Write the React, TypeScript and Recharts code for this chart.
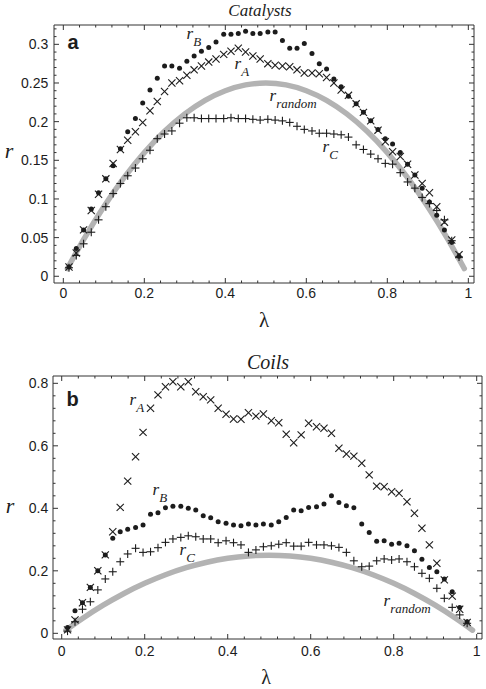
import { ScatterChart, Scatter, XAxis, YAxis, ReferenceLine, Customized } from 'recharts'

// lambda positions shared by both panels
const LAMBDA = [
  0.014, 0.032, 0.05, 0.069, 0.087, 0.105, 0.123, 0.141, 0.159, 0.178,
  0.196, 0.214, 0.232, 0.25, 0.268, 0.287, 0.305, 0.323, 0.341, 0.359,
  0.377, 0.396, 0.414, 0.432, 0.45, 0.468, 0.486, 0.505, 0.523, 0.541,
  0.559, 0.577, 0.595, 0.614, 0.632, 0.65, 0.668, 0.686, 0.704, 0.723,
  0.741, 0.759, 0.777, 0.795, 0.813, 0.832, 0.85, 0.868, 0.886, 0.904,
  0.922, 0.941, 0.959, 0.977,
]

// panel a: Catalysts
const CAT_A = [
  0.012, 0.03, 0.06, 0.085, 0.106, 0.126, 0.146, 0.164, 0.176, 0.187,
  0.199, 0.214, 0.226, 0.239, 0.25, 0.253, 0.26, 0.267, 0.272, 0.277,
  0.281, 0.287, 0.291, 0.295, 0.29, 0.285, 0.281, 0.275, 0.273, 0.272,
  0.271, 0.267, 0.263, 0.263, 0.262, 0.257, 0.25, 0.241, 0.234, 0.223,
  0.212, 0.201, 0.189, 0.174, 0.161, 0.155, 0.145, 0.131, 0.12, 0.108,
  0.09, 0.07, 0.047, 0.028,
]
const CAT_B = [
  0.012, 0.036, 0.06, 0.087, 0.108, 0.126, 0.143, 0.165, 0.187, 0.204,
  0.224, 0.241, 0.256, 0.272, 0.272, 0.269, 0.278, 0.285, 0.291, 0.296,
  0.303, 0.313, 0.313, 0.314, 0.317, 0.314, 0.314, 0.316, 0.316, 0.305,
  0.295, 0.295, 0.301, 0.288, 0.275, 0.268, 0.255, 0.245, 0.233, 0.223,
  0.212, 0.201, 0.19, 0.178, 0.171, 0.16, 0.145, 0.131, 0.114, 0.096,
  0.079, 0.06, 0.044, 0.026,
]
const CAT_C = [
  0.011, 0.027, 0.042, 0.057, 0.073, 0.09, 0.107, 0.12, 0.13, 0.14,
  0.152, 0.163, 0.178, 0.184, 0.188, 0.198, 0.205, 0.205, 0.204, 0.204,
  0.204, 0.204, 0.205, 0.204, 0.204, 0.203, 0.202, 0.203, 0.202, 0.201,
  0.199, 0.194, 0.19, 0.188, 0.185, 0.185, 0.184, 0.183, 0.18, 0.17,
  0.164, 0.158, 0.152, 0.146, 0.145, 0.134, 0.122, 0.114, 0.102, 0.094,
  0.085, 0.073, 0.046, 0.025,
]

// panel b: Coils
const COIL_A = [
  0.011, 0.043, 0.098, 0.147, 0.2, 0.251, 0.325, 0.403, 0.487, 0.565,
  0.643, 0.72, 0.763, 0.789, 0.805, 0.789, 0.805, 0.773, 0.757, 0.747,
  0.72, 0.701, 0.686, 0.685, 0.706, 0.695, 0.702, 0.68, 0.674, 0.637,
  0.61, 0.635, 0.672, 0.661, 0.656, 0.64, 0.592, 0.574, 0.567, 0.544,
  0.507, 0.471, 0.469, 0.453, 0.448, 0.421, 0.384, 0.336, 0.283, 0.224,
  0.171, 0.119, 0.077, 0.035,
]
const COIL_B = [
  0.019, 0.072, 0.098, 0.147, 0.2, 0.251, 0.304, 0.325, 0.333, 0.339,
  0.347, 0.381, 0.386, 0.402, 0.407, 0.407, 0.4, 0.395, 0.376, 0.37,
  0.357, 0.352, 0.347, 0.344, 0.35, 0.347, 0.35, 0.347, 0.357, 0.371,
  0.395, 0.392, 0.403, 0.405, 0.414, 0.44, 0.419, 0.408, 0.402, 0.35,
  0.323, 0.295, 0.296, 0.285, 0.288, 0.28, 0.264, 0.237, 0.211, 0.197,
  0.174, 0.133, 0.083, 0.037,
]
const COIL_C = [
  0.007, 0.037, 0.077, 0.101, 0.139, 0.174, 0.197, 0.229, 0.254, 0.272,
  0.259, 0.261, 0.274, 0.291, 0.302, 0.307, 0.312, 0.309, 0.302, 0.302,
  0.29, 0.296, 0.29, 0.283, 0.259, 0.267, 0.277, 0.28, 0.285, 0.29,
  0.279, 0.279, 0.291, 0.283, 0.283, 0.28, 0.275, 0.259, 0.232, 0.213,
  0.215, 0.232, 0.238, 0.235, 0.238, 0.229, 0.213, 0.192, 0.176, 0.144,
  0.112, 0.083, 0.059, 0.032,
]

// grey r_random curve
const RAND_X = [0.01, 0.05, 0.1, 0.15, 0.2, 0.25, 0.3, 0.35, 0.4, 0.45, 0.5, 0.55, 0.6, 0.65, 0.7, 0.75, 0.8, 0.85, 0.9, 0.95, 0.99]
const RAND_Y = [0.0099, 0.0475, 0.09, 0.1275, 0.16, 0.1875, 0.21, 0.2275, 0.24, 0.2475, 0.25, 0.2475, 0.24, 0.2275, 0.21, 0.1875, 0.16, 0.1275, 0.09, 0.0475, 0.0099]

// ticks
const X_TICKS = Array.from({ length: 26 }, (_, i) => i * 0.04)
const X_LABELS = [0, 0.2, 0.4, 0.6, 0.8, 1]
const CAT_Y_TICKS = Array.from({ length: 33 }, (_, i) => i / 100)
const CAT_Y_LABELS = [0, 0.05, 0.1, 0.15, 0.2, 0.25, 0.3]
const COIL_Y_TICKS = Array.from({ length: 21 }, (_, i) => i * 0.04)
const COIL_Y_LABELS = [0, 0.2, 0.4, 0.6, 0.8]

const INK = '#1c1c1c'
const FRAME = '#333'
const SANS = '"Liberation Sans", Arial, sans-serif'
const SERIF = '"Liberation Serif", "Times New Roman", serif'
const X_AXIS_H = 30

const pts = (xs: number[], ys: number[]) => ys.map((y, i) => ({ x: xs[i], y }))
const fmt = (v: number) => String(Number(v.toFixed(2)))
const isMajor = (majors: number[], v: number) => majors.some((m) => Math.abs(m - v) < 1e-6)

function frameTick(side: 'bottom' | 'left', majors: number[], gap: number) {
  return (props: any) => {
    const x = Number(props.x)
    const y = Number(props.y)
    const v = Number(props.payload.value)
    const major = isMajor(majors, v)
    const len = major ? 5 : 2.5
    const d = side === 'bottom' ? `M${x},${y}V${y - len}` : `M${x},${y}H${x + len}`
    let text = null
    if (major) {
      text =
        side === 'bottom' ? (
          <text x={x} y={y + gap} textAnchor="middle" fontSize={14} fontFamily={SANS} fill={INK} stroke="none">
            {fmt(v)}
          </text>
        ) : (
          <text x={x - gap} y={y + 5} textAnchor="end" fontSize={14} fontFamily={SANS} fill={INK} stroke="none">
            {fmt(v)}
          </text>
        )
    }
    return (
      <g>
        <path d={d} stroke={FRAME} strokeWidth={1} fill="none" />
        {text}
      </g>
    )
  }
}

const XMark = (p: any) => (
  <g stroke={INK} strokeWidth={1.1}>
    <line x1={p.cx - 3.6} y1={p.cy - 3.6} x2={p.cx + 3.6} y2={p.cy + 3.6} />
    <line x1={p.cx - 3.6} y1={p.cy + 3.6} x2={p.cx + 3.6} y2={p.cy - 3.6} />
  </g>
)
const PlusMark = (p: any) => (
  <g stroke={INK} strokeWidth={1.1}>
    <line x1={p.cx - 4} y1={p.cy} x2={p.cx + 4} y2={p.cy} />
    <line x1={p.cx} y1={p.cy - 4} x2={p.cx} y2={p.cy + 4} />
  </g>
)
const DotMark = (p: any) => <circle cx={p.cx} cy={p.cy} r={2.5} fill={INK} />
const NoMark = () => <g />

function RLabel({ x, y, sub }: { x: number; y: number; sub: string }) {
  return (
    <text x={x - 3.5} y={y + 4} fontFamily={SERIF} fontStyle="italic" fill={INK}>
      <tspan fontSize={17}>r</tspan>
      <tspan fontSize={13} dy={7}>
        {sub}
      </tspan>
    </text>
  )
}

// panel texts, in page coordinates, shifted into the chart's own svg
const TopText = () => (
  <g>
    <text x={260} y={15.5} textAnchor="middle" fontFamily={SERIF} fontStyle="italic" fontSize={17} fill={INK}>
      Catalysts
    </text>
    <text x={73} y={49} textAnchor="middle" fontFamily={SANS} fontWeight="bold" fontSize={20} fill={INK}>
      a
    </text>
    <text x={9} y={158} textAnchor="middle" fontFamily={SERIF} fontStyle="italic" fontSize={22} fill={INK}>
      r
    </text>
    <text x={264} y={327} textAnchor="middle" fontFamily={SERIF} fontSize={21} fill={INK}>
      λ
    </text>
    <RLabel x={190} y={35} sub="B" />
    <RLabel x={238} y={65} sub="A" />
    <RLabel x={273} y={97} sub="random" />
    <RLabel x={326} y={148} sub="C" />
  </g>
)

const BottomText = () => (
  <g transform="translate(0,-340)">
    <text x={268} y={369} textAnchor="middle" fontFamily={SERIF} fontStyle="italic" fontSize={20} fill={INK}>
      Coils
    </text>
    <text x={72.5} y={405.5} textAnchor="middle" fontFamily={SANS} fontWeight="bold" fontSize={20} fill={INK}>
      b
    </text>
    <text x={10} y={513} textAnchor="middle" fontFamily={SERIF} fontStyle="italic" fontSize={22} fill={INK}>
      r
    </text>
    <text x={266} y={684} textAnchor="middle" fontFamily={SERIF} fontSize={20} fill={INK}>
      λ
    </text>
    <RLabel x={133} y={401} sub="A" />
    <RLabel x={156} y={491} sub="B" />
    <RLabel x={183} y={551} sub="C" />
    <RLabel x={387} y={602} sub="random" />
  </g>
)

interface PanelProps {
  height: number
  margin: { top: number; right: number; bottom: number; left: number }
  yWidth: number
  xDomain: [number, number]
  yDomain: [number, number]
  yTicks: number[]
  yLabels: number[]
  xGap: number
  yGap: number
  a: number[]
  b: number[]
  c: number[]
  texts: any
}

function Panel(p: PanelProps) {
  const common = { type: 'number' as const, allowDataOverflow: true, interval: 0 as const, tickSize: 0, tickMargin: 0, tickLine: false, axisLine: { stroke: FRAME, strokeWidth: 1 } }
  const [x0, x1] = p.xDomain
  const [y0, y1] = p.yDomain
  // data units per pixel, for the inward ticks on the top and right sides of the frame
  const plotW = 486 - p.margin.left - p.margin.right - p.yWidth
  const plotH = p.height - p.margin.top - p.margin.bottom - X_AXIS_H
  const dxPx = (x1 - x0) / plotW
  const dyPx = (y1 - y0) / plotH
  const ref = { xAxisId: 'b', yAxisId: 'l', stroke: FRAME, strokeWidth: 1, ifOverflow: 'visible' as const }
  return (
    <ScatterChart width={486} height={p.height} margin={p.margin}>
      <XAxis {...common} xAxisId="b" dataKey="x" domain={p.xDomain} ticks={X_TICKS} height={X_AXIS_H} tick={frameTick('bottom', X_LABELS, p.xGap)} />
      <YAxis {...common} yAxisId="l" dataKey="y" domain={p.yDomain} ticks={p.yTicks} width={p.yWidth} tick={frameTick('left', p.yLabels, p.yGap)} />
      <ReferenceLine {...ref} y={y1} />
      <ReferenceLine {...ref} x={x1} />
      {X_TICKS.map((v) => (
        <ReferenceLine key={`t${v}`} {...ref} segment={[{ x: v, y: y1 }, { x: v, y: y1 - (isMajor(X_LABELS, v) ? 5 : 2.5) * dyPx }]} />
      ))}
      {p.yTicks.map((v) => (
        <ReferenceLine key={`r${v}`} {...ref} segment={[{ x: x1, y: v }, { x: x1 - (isMajor(p.yLabels, v) ? 5 : 2.5) * dxPx, y: v }]} />
      ))}
      <Scatter
        xAxisId="b"
        yAxisId="l"
        data={pts(RAND_X, RAND_Y)}
        line={{ stroke: '#b3b3b3', strokeWidth: 5.5, strokeLinecap: 'round' } as any}
        lineJointType="monotoneX"
        shape={NoMark}
        isAnimationActive={false}
      />
      <Scatter xAxisId="b" yAxisId="l" data={pts(LAMBDA, p.b)} shape={DotMark} isAnimationActive={false} />
      <Scatter xAxisId="b" yAxisId="l" data={pts(LAMBDA, p.a)} shape={XMark} isAnimationActive={false} />
      <Scatter xAxisId="b" yAxisId="l" data={pts(LAMBDA, p.c)} shape={PlusMark} isAnimationActive={false} />
      <Customized component={p.texts} />
    </ScatterChart>
  )
}

export default function App() {
  return (
    <div style={{ position: 'fixed', left: 0, top: 0, width: 486, height: 689, background: '#fff' }}>
      <div style={{ position: 'absolute', left: 0, top: 0 }}>
        <Panel
          height={333}
          margin={{ top: 25, right: 12, bottom: 20, left: 0 }}
          yWidth={54}
          xDomain={[-0.023, 1.014]}
          yDomain={[-0.0087, 0.325]}
          yTicks={CAT_Y_TICKS}
          yLabels={CAT_Y_LABELS}
          xGap={14.7}
          yGap={5.7}
          a={CAT_A}
          b={CAT_B}
          c={CAT_C}
          texts={TopText}
        />
      </div>
      <div style={{ position: 'absolute', left: 0, top: 340 }}>
        <Panel
          height={349}
          margin={{ top: 36, right: 4, bottom: 20, left: 0 }}
          yWidth={53}
          xDomain={[-0.021, 1.0128]}
          yDomain={[-0.0182, 0.8234]}
          yTicks={COIL_Y_TICKS}
          yLabels={COIL_Y_LABELS}
          xGap={17}
          yGap={4.7}
          a={COIL_A}
          b={COIL_B}
          c={COIL_C}
          texts={BottomText}
        />
      </div>
    </div>
  )
}
